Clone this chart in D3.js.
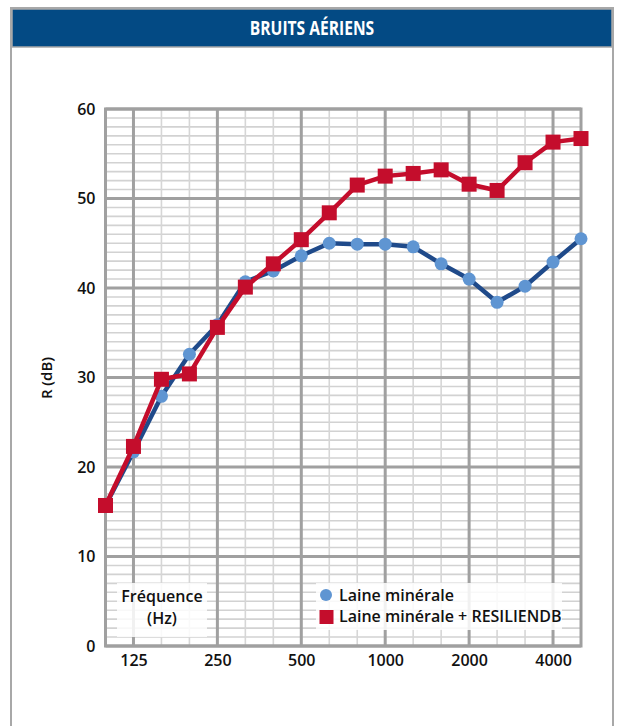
<!DOCTYPE html>
<html><head><meta charset="utf-8">
<script src="https://cdn.jsdelivr.net/npm/d3@7"></script>
<style>html,body{margin:0;padding:0;background:#fff;}</style>
</head><body><svg id="c" width="622" height="726"></svg>
<script>
const bands = ["100","125","160","200","250","315","400","500","630","800","1000","1250","1600","2000","2500","3150","4000","5000"];
const octaveLabels = ["125","250","500","1000","2000","4000"];
const laineMinerale = [15.7,21.7,27.9,32.6,35.9,40.7,41.9,43.6,45.0,44.9,44.9,44.6,42.7,41.0,38.4,40.2,42.9,45.5];
const laineResiliendb = [15.7,22.3,29.8,30.4,35.6,40.1,42.7,45.4,48.4,51.5,52.5,52.8,53.2,51.6,50.9,54.0,56.3,56.7];
const yTicks = [0,10,20,30,40,50,60];
const title = "BRUITS AÉRIENS";
const yTitle = "R (dB)";
const xTitle = ["Fréquence","(Hz)"];
const seriesNames = ["Laine minérale","Laine minérale + RESILIENDB"];

const svg = d3.select("#c");
const font = "'Open Sans', 'Noto Sans', sans-serif";
const L=105.5, R=581, T=109, B=646;
const x = d3.scalePoint().domain(bands).range([L,R]);
const y = d3.scaleLinear().domain([0,60]).range([B,T]);

// frame
svg.append("rect").attr("x",11).attr("y",8).attr("width",602).attr("height",730)
  .attr("fill","#fff").attr("stroke","#a8a8a8").attr("stroke-width",2);
svg.append("rect").attr("x",12).attr("y",9).attr("width",600).attr("height",38)
  .attr("fill","#034a84").attr("stroke","#a8a8a8").attr("stroke-width",1.5);
svg.append("text").attr("transform","translate(312,35) scale(0.78,1)").attr("text-anchor","middle")
  .attr("fill","#fff").attr("font-family",font)
  .attr("font-weight","bold").attr("font-size",20).text(title);

const g = svg.append("g");
g.selectAll("line.hmin").data(d3.range(0,61).filter(v=>v%10!==0)).join("line")
  .attr("x1",L).attr("x2",R).attr("y1",d=>y(d)).attr("y2",d=>y(d))
  .attr("stroke","#d2d2d2").attr("stroke-width",1.6);
g.selectAll("line.vmin").data(bands.filter(b=>!octaveLabels.includes(b))).join("line")
  .attr("y1",T).attr("y2",B).attr("x1",d=>x(d)).attr("x2",d=>x(d))
  .attr("stroke","#d6d6d6").attr("stroke-width",1.6);
g.selectAll("line.hmaj").data(yTicks).join("line")
  .attr("x1",L).attr("x2",R).attr("y1",d=>y(d)).attr("y2",d=>y(d))
  .attr("stroke","#a0a0a0").attr("stroke-width",3);
g.selectAll("line.vmaj").data(octaveLabels).join("line")
  .attr("y1",T).attr("y2",B).attr("x1",d=>x(d)).attr("x2",d=>x(d))
  .attr("stroke","#a0a0a0").attr("stroke-width",3);
g.append("rect").attr("x",L).attr("y",T).attr("width",R-L).attr("height",B-T)
  .attr("fill","none").attr("stroke","#a0a0a0").attr("stroke-width",3);

const yAxis = d3.axisLeft(y).tickValues(yTicks).tickSize(0).tickPadding(10);
const ya = svg.append("g").attr("transform",`translate(${L},0)`).call(yAxis);
ya.select(".domain").remove();
ya.selectAll("text").attr("font-family",font).attr("font-weight",600).attr("font-size",16).attr("fill","#111");

const xAxis = d3.axisBottom(x).tickValues(octaveLabels).tickSize(0).tickPadding(9);
const xa = svg.append("g").attr("transform",`translate(0,${B})`).call(xAxis);
xa.select(".domain").remove();
xa.selectAll("text").attr("font-family",font).attr("font-weight",600).attr("font-size",16).attr("fill","#111");

svg.append("text").attr("transform","translate(52,378) rotate(-90)").attr("text-anchor","middle")
  .attr("font-family",font).attr("font-weight",600).attr("font-size",15).attr("fill","#111").text(yTitle);

const line = d3.line().x((d,i)=>x(bands[i])).y(d=>y(d));
svg.append("path").datum(laineMinerale).attr("d",line).attr("fill","none")
  .attr("stroke","#1f4a8a").attr("stroke-width",4.5).attr("stroke-linejoin","round");
svg.selectAll("circle.pt").data(laineMinerale).join("circle")
  .attr("cx",(d,i)=>x(bands[i])).attr("cy",d=>y(d)).attr("r",6.5).attr("fill","#5f95d2");
svg.append("path").datum(laineResiliendb).attr("d",line).attr("fill","none")
  .attr("stroke","#c40d2c").attr("stroke-width",4.5).attr("stroke-linejoin","round");
const sq=15;
svg.selectAll("rect.pt").data(laineResiliendb).join("rect")
  .attr("x",(d,i)=>x(bands[i])-sq/2).attr("y",d=>y(d)-sq/2).attr("width",sq).attr("height",sq).attr("fill","#c40d2c");

svg.append("rect").attr("x",117).attr("y",583).attr("width",90).attr("height",54).attr("fill","#fff").attr("opacity",0.85);
svg.append("text").attr("x",162).attr("y",602).attr("text-anchor","middle")
  .attr("font-family",font).attr("font-weight",600).attr("font-size",16).attr("fill","#111").text(xTitle[0]);
svg.append("text").attr("x",162).attr("y",624).attr("text-anchor","middle")
  .attr("font-family",font).attr("font-weight",600).attr("font-size",16).attr("fill","#111").text(xTitle[1]);

svg.append("rect").attr("x",316).attr("y",583).attr("width",246).attr("height",47).attr("fill","#fff").attr("opacity",0.85);
svg.append("circle").attr("cx",326).attr("cy",595).attr("r",6).attr("fill","#5f95d2");
svg.append("rect").attr("x",319.5).attr("y",610).attr("width",14).attr("height",14).attr("fill","#c40d2c");
svg.append("text").attr("x",339).attr("y",600.5)
  .attr("font-family",font).attr("font-weight",600).attr("font-size",16).attr("fill","#111").text(seriesNames[0]);
svg.append("text").attr("x",339).attr("y",622)
  .attr("font-family",font).attr("font-weight",600).attr("font-size",16).attr("fill","#111").text(seriesNames[1]);
</script></body></html>
